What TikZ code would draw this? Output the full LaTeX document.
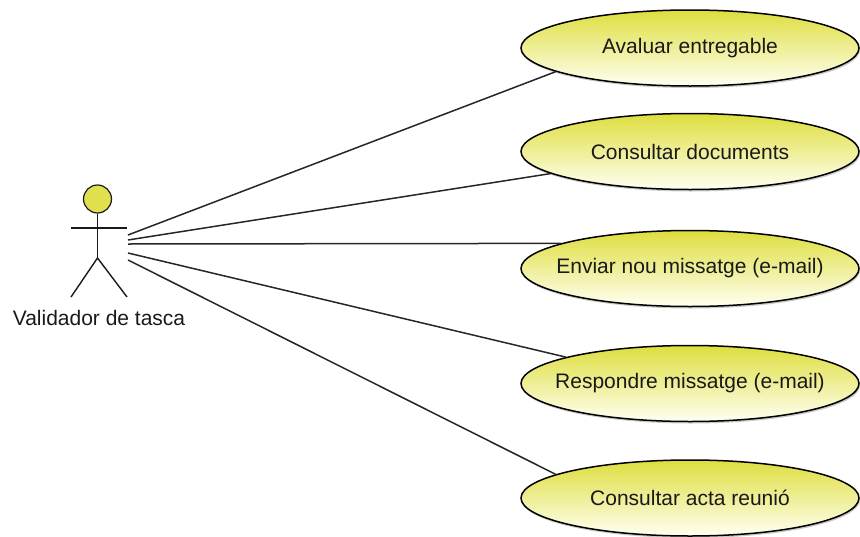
\documentclass[tikz,border=0pt]{standalone}
\usepackage{fontspec}
\setmainfont{Liberation Sans}
\usetikzlibrary{shapes.geometric,shadows}
\definecolor{ucTop}{RGB}{222,222,62}
\definecolor{ucBottom}{RGB}{255,255,242}
\definecolor{headFill}{RGB}{224,224,78}
\definecolor{lineGray}{RGB}{38,38,38}
\definecolor{txtGray}{RGB}{25,25,25}
% use-case label of zero width, so the ellipse keeps its fixed size
\newcommand\uclabel[1]{\makebox[0pt]{#1}}
\begin{document}
\begin{tikzpicture}[x=1pt,y=-1pt,
  usecase/.style={ellipse, draw=black, line width=1.5pt,
    top color=ucTop, bottom color=ucBottom,
    minimum width=338pt, minimum height=76pt, inner sep=0pt,
    font=\fontsize{21}{24}\selectfont, text=txtGray,
    drop shadow={shadow xshift=1pt, shadow yshift=-2pt, opacity=0.3, fill=black!70}},
  assoc/.style={draw=lineGray, line width=1.5pt},
  stick/.style={draw=black!90, line width=1.4pt},
  actorname/.style={font=\fontsize{21}{24}\selectfont, text=txtGray, inner sep=0pt},
]
\useasboundingbox (0,0) rectangle (860,536);

% use cases
\node[usecase] (u1) at (690,48)    {\uclabel{Avaluar entregable}};
\node[usecase] (u2) at (690,151.5) {\uclabel{Consultar documents}};
\node[usecase] (u3) at (690,268.5) {\uclabel{Enviar nou missatge (e-mail)}};
\node[usecase] (u4) at (690,383.5) {\uclabel{Respondre missatge (e-mail)}};
\node[usecase] (u5) at (690,498)   {\uclabel{Consultar acta reunió}};

% actor
\node[circle, draw=black!90, line width=1.2pt, fill=headFill,
      minimum size=28pt, inner sep=0pt] (head) at (97.5,199) {};
\coordinate (hip) at (97.5,258);
\coordinate (lhand) at (71,228);
\coordinate (rhand) at (127,228);
\coordinate (lfoot) at (71,297);
\coordinate (rfoot) at (127,297);
\draw[stick] (head.south) -- (hip);
\draw[stick] (lhand) -- (rhand);
\draw[stick] (lfoot) -- (hip) -- (rfoot);
\node[actorname] (actor) at (99,318) {Validador de tasca};

% associations
\coordinate (s1) at (128,235);
\coordinate (s2) at (128,240);
\coordinate (s3) at (128,244);
\coordinate (s4) at (128,253);
\coordinate (s5) at (128,260);
\draw[assoc] (s1) -- (u1.190.7);
\draw[assoc] (s2) -- (u2.189.7);
\draw[assoc] (s3) -- (u3.169.5);
\draw[assoc] (s4) -- (u4.168.3);
\draw[assoc] (s5) -- (u5.170.2);
\end{tikzpicture}
\end{document}
